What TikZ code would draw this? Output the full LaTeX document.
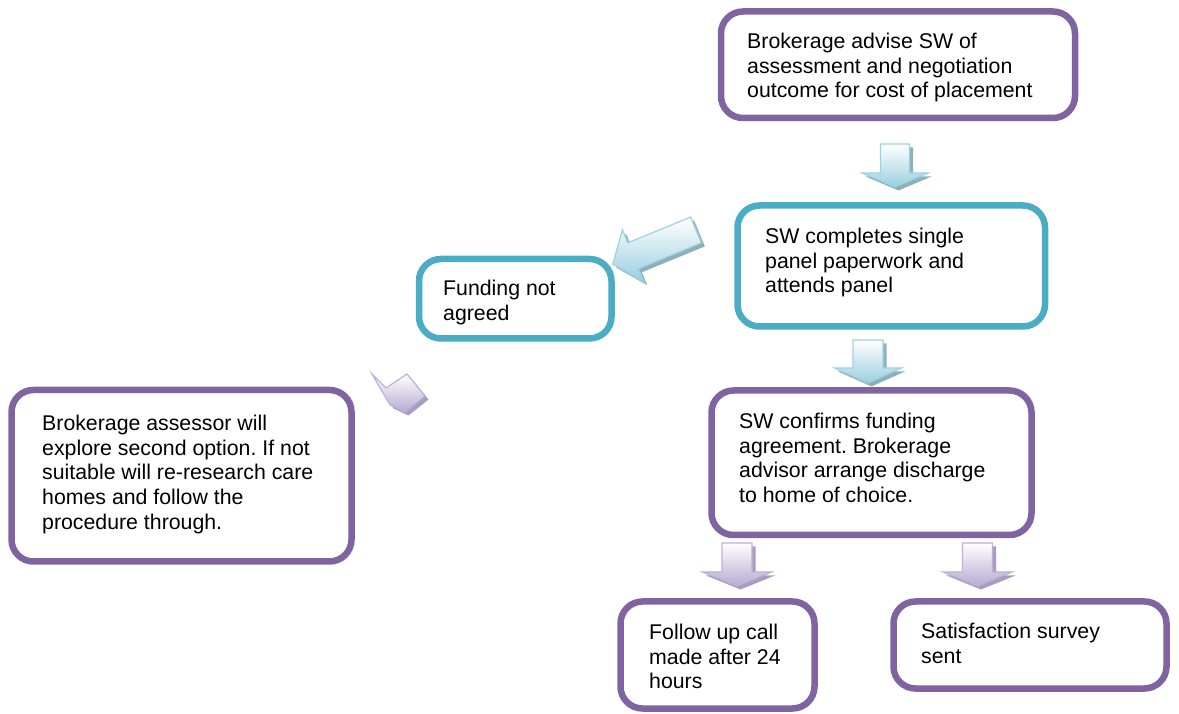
\documentclass[tikz,border=0pt]{standalone}
\usepackage{fontspec}
\setmainfont{Liberation Sans}
\usetikzlibrary{calc}

\definecolor{boxpurple}{HTML}{8064A2}
\definecolor{boxteal}{HTML}{4BACC6}
\definecolor{cyfill}{HTML}{9ACFDF}
\definecolor{cyedge}{HTML}{9BD3E3}
\definecolor{cyshadow}{HTML}{8FAFBA}
\definecolor{pufill}{HTML}{B7ABD2}
\definecolor{puedge}{HTML}{BDB1D6}
\definecolor{pushadow}{HTML}{A99CC4}

% Block arrow: tail centre, angle, length, shaft half-width,
% head half-width, head length, colour prefix (cy / pu)
\newcommand\blockarrow[7]{%
  \begin{scope}[shift={#1}, xshift=3.5pt, yshift=-3.5pt, rotate=#2]
    \fill[#7shadow] (0,-#4) -- ({#3-#6},-#4) -- ({#3-#6},-#5) -- (#3,0)
      -- ({#3-#6},#5) -- ({#3-#6},#4) -- (0,#4) -- cycle;
  \end{scope}
  \begin{scope}[shift={#1}, rotate=#2]
    \shadedraw[top color=white, bottom color=#7fill, draw=#7edge, line width=1.2pt,
      line join=miter]
      (0,-#4) -- ({#3-#6},-#4) -- ({#3-#6},-#5) -- (#3,0)
      -- ({#3-#6},#5) -- ({#3-#6},#4) -- (0,#4) -- cycle;
  \end{scope}}

\begin{document}
\frenchspacing
\begin{tikzpicture}[x=1pt, y=1pt,
  flowbox/.style={draw, line width=6.5pt, rounded corners=22pt, fill=white,
    inner sep=0pt, outer sep=0pt, anchor=north west},
  purplebox/.style={flowbox, draw=boxpurple},
  tealbox/.style={flowbox, draw=boxteal},
  boxtext/.style={anchor=north west, align=left, inner sep=0pt,
    font=\fontsize{21.3}{24.7}\selectfont}]

\useasboundingbox (0,0) rectangle (1179,713);

% boxes
\node[purplebox, minimum width=354pt, minimum height=106.5pt] (advise) at (721,701.5) {};
\node[tealbox, minimum width=307.5pt, minimum height=121pt] (panel) at (737.5,507.5) {};
\node[tealbox, minimum width=192.5pt, minimum height=79.5pt] (notagreed) at (419,454) {};
\node[purplebox, minimum width=320pt, minimum height=144.5pt] (confirms) at (711.5,322.5) {};
\node[purplebox, minimum width=340pt, minimum height=171.5pt] (assessor) at (11.5,323) {};
\node[purplebox, minimum width=194pt, minimum height=107pt] (followup) at (620.5,111.5) {};
\node[purplebox, minimum width=273pt, minimum height=87pt] (survey) at (893.5,111.5) {};

% texts
\node[boxtext] (advise-t) at (747,680.3)
  {Brokerage advise SW of\\assessment and negotiation\\outcome for cost of placement};
\node[boxtext] (panel-t) at (765,485.3)
  {SW completes single\\panel paperwork and\\attends panel};
\node[boxtext] (notagreed-t) at (443,433.3) {Funding not\\agreed};
\node[boxtext] (confirms-t) at (739,300.3)
  {SW confirms funding\\agreement. Brokerage\\advisor arrange discharge\\to home of choice.};
\node[boxtext] (assessor-t) at (42,298.3)
  {Brokerage assessor will\\explore second option. If not\\suitable will re-research care\\homes and follow the\\procedure through.};
\node[boxtext] (followup-t) at (649,89.3) {Follow up call\\made after 24\\hours};
\node[boxtext] (survey-t) at (921,90.3) {Satisfaction survey\\sent};

% block arrows between the boxes
\blockarrow{($(advise.south)+(-3,-26)$)}{-90}{43}{14.5}{33}{14}{cy}
\blockarrow{($(panel.south)+(-23.25,-13.5)$)}{-90}{43}{15}{33.5}{15}{cy}
\blockarrow{($(panel.west)+(-41.5,36)$)}{202.3}{90}{14}{28}{22}{cy}
\blockarrow{($(confirms.south west)+(25.5,-8)$)}{-90}{43}{15}{34.5}{14}{pu}
\blockarrow{($(confirms.south east)+(-54,-8)$)}{-90}{43}{15}{34.5}{14}{pu}

% short tilted arrow from "Funding not agreed" towards the assessor box
\begin{scope}[shift={($(notagreed.south west)+(-47,-35.5)$)}]
  \fill[pushadow] (3.5,-3.5) -- (17.5,-17.5) -- (38.5,-3.5) -- (56.5,-25.5)
    -- (36.5,-41.5) -- (21.5,-34.5) -- cycle;
  \shadedraw[top color=white, bottom color=pufill,
    draw=puedge, line width=1.2pt]
    (0,0) -- (14,-14) -- (35,0) -- (53,-22) -- (33,-38) -- (18,-31) -- cycle;
\end{scope}

\end{tikzpicture}
\end{document}
